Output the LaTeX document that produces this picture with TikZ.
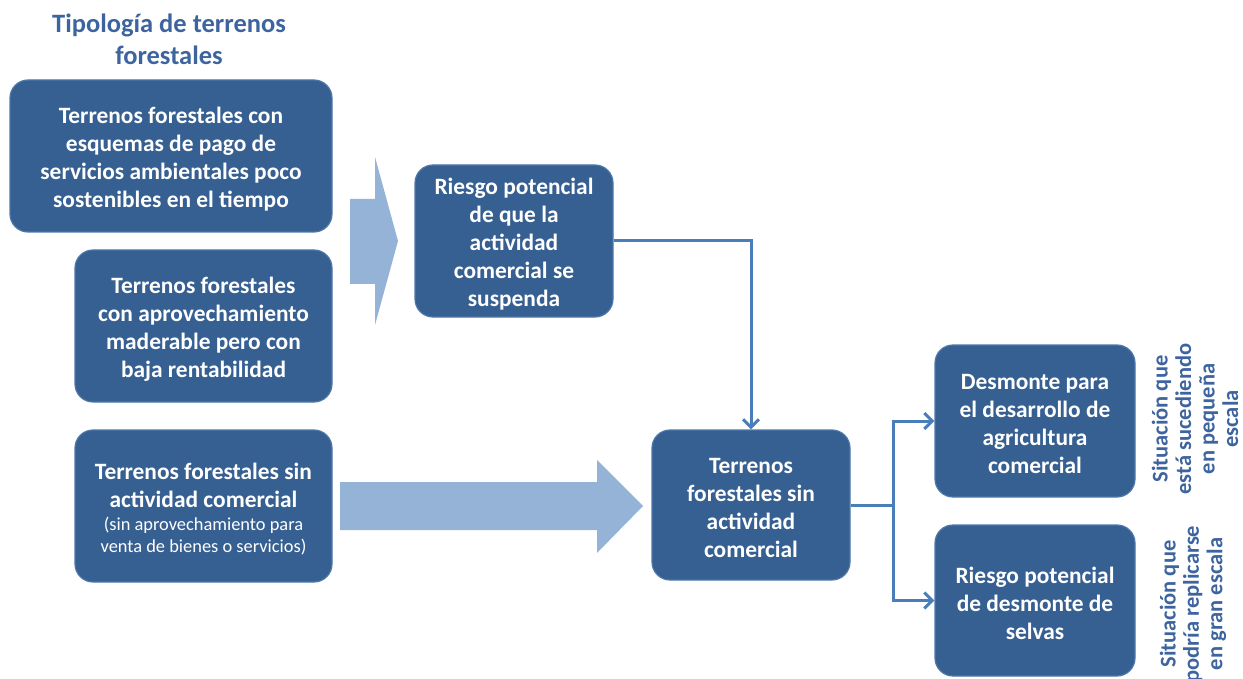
\documentclass[tikz,border=0pt]{standalone}
\usepackage{fontspec}
\setmainfont{Carlito}
\usetikzlibrary{arrows.meta}
\definecolor{boxblue}{RGB}{55,96,146}
\definecolor{boxedge}{RGB}{79,120,170}
\definecolor{titleblue}{RGB}{62,100,160}
\definecolor{fatarrow}{RGB}{149,179,215}
\definecolor{connblue}{RGB}{74,126,187}
\tikzset{
  box/.style={draw=boxedge, line width=1.2pt, fill=boxblue, rounded corners=18pt, inner sep=0pt},
  boxtext/.style={text=white, align=center, font=\fontsize{23.4}{28}\selectfont\bfseries, inner sep=0pt},
  conn/.style={draw=connblue, line width=3pt},
  connarrow/.style={conn, -{Straight Barb[length=8pt,width=16pt,line width=3pt]}},
  fat/.style={fill=fatarrow, draw=none},
  sidetext/.style={text=titleblue, align=center, rotate=90, font=\fontsize{22.5}{23.5}\selectfont\bfseries}
}
\begin{document}
\begin{tikzpicture}[x=1pt,y=-1pt]
\useasboundingbox (0,0) rectangle (1243,679);
% title
\node[text=titleblue, align=center, font=\fontsize{26.5}{32}\selectfont\bfseries] (title) at (169,39) {Tipología de terrenos\\forestales};
% boxes
\node[box, minimum width=322pt, minimum height=152pt] (b1) at (171,156) {};
\node[box, minimum width=257pt, minimum height=152pt] (b2) at (203.5,326) {};
\node[box, minimum width=257pt, minimum height=152pt] (b3) at (203.5,506) {};
\node[box, minimum width=198pt, minimum height=152pt] (r1) at (514,241) {};
\node[box, minimum width=198pt, minimum height=150pt] (c) at (751,505) {};
\node[box, minimum width=200pt, minimum height=152pt] (d1) at (1035,421) {};
\node[box, minimum width=200pt, minimum height=151pt] (d2) at (1035,600.5) {};
% box texts
\node[boxtext] (b1t) at ([yshift=-3pt]b1.center) {Terrenos forestales con\\esquemas de pago de\\servicios ambientales poco\\sostenibles en el tiempo};
\node[boxtext] (b2t) at ([yshift=-3pt]b2.center) {Terrenos forestales\\con aprovechamiento\\maderable pero con\\baja rentabilidad};
\node[boxtext] (b3t) at ([yshift=-3pt]b3.center) {Terrenos forestales sin\\actividad comercial\\[-5pt]{\fontsize{18.4}{21.5}\selectfont\mdseries (sin aprovechamiento para}\\[-6pt]{\fontsize{18.4}{21.5}\selectfont\mdseries venta de bienes o servicios)}};
\node[boxtext] (r1t) at ([yshift=-3pt]r1.center) {Riesgo potencial\\de que la\\actividad\\comercial se\\suspenda};
\node[boxtext] (ct) at ([yshift=-3pt]c.center) {Terrenos\\forestales sin\\actividad\\comercial};
\node[boxtext] (d1t) at ([yshift=-2.5pt]d1.center) {Desmonte para\\el desarrollo de\\agricultura\\comercial};
\node[boxtext] (d2t) at ([yshift=-2.5pt]d2.center) {Riesgo potencial\\de desmonte de\\selvas};
% side texts
\node[sidetext] (s1) at (1195,419) {Situación que\\está sucediendo\\en pequeña\\escala};
\node[sidetext] (s2) at (1193,604) {Situación que\\podría replicarse\\en gran escala};
% fat arrows
\path[fat] (350,199) -- (375,199) -- (375,157) -- (398,241) -- (375,325) -- (375,284) -- (350,284) -- cycle;
\path[fat] (340,482) -- (597,482) -- (597,460) -- (643,506) -- (597,553) -- (597,530) -- (340,530) -- cycle;
% connectors
\draw[connarrow] (r1.east) -| (c.north);
\draw[conn] (c.east) -- ++(43,0) coordinate (br);
\draw[connarrow] (br) |- (d1.west);
\draw[connarrow] (br) |- (d2.west);
\end{tikzpicture}
\end{document}
